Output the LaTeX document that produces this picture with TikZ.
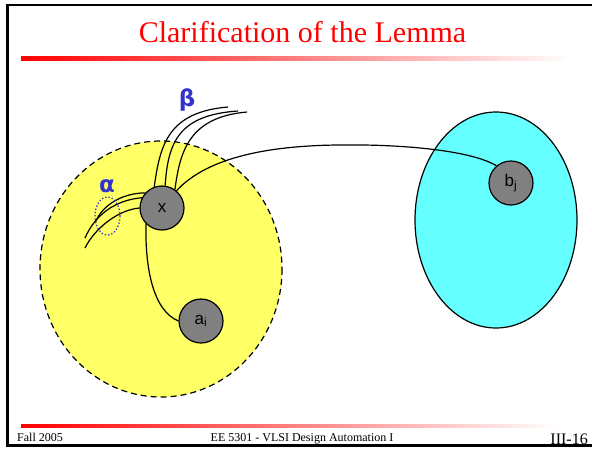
\documentclass[tikz,border=0pt]{standalone}
\usepackage{fontspec}
\setmainfont{Liberation Serif}
\newfontfamily\arialf{Liberation Sans}
\newfontfamily\dvsf{DejaVu Sans}
\definecolor{myyellow}{RGB}{255,255,102}
\definecolor{mycyan}{RGB}{102,255,255}
\definecolor{nodegray}{RGB}{128,128,128}
\definecolor{greek}{RGB}{51,51,204}
\pgfdeclarelayer{bg}
\pgfsetlayers{bg,main}
\begin{document}
\begin{tikzpicture}[x=1pt,y=-1pt,
  vnode/.style={circle, draw=black, line width=1.2pt, fill=nodegray, minimum size=44pt, inner sep=0pt, font=\arialf\fontsize{17}{19}\selectfont},
  wire/.style={line width=1.2pt},
  greeklbl/.style={text=greek, font=\dvsf\bfseries\fontsize{23}{25}\selectfont},
  gradline/.style={left color=red, right color=white, draw=none},
  foot/.style={font=\fontsize{12}{13}\selectfont}
  ]
\useasboundingbox (0,0) rectangle (592,448);
% nodes
\node[vnode] (x) at (162,208) {x};
\node[vnode] (ai) at (201,321) {a\textsubscript{i}};
\node[vnode] (bj) at (511,183) {b\textsubscript{j}};
\begin{pgfonlayer}{bg}
\fill[white] (0,0) rectangle (592,448);
\draw[line width=1.2pt, fill=myyellow, dash pattern=on 6pt off 4pt] (161,269) ellipse [x radius=121, y radius=128];
\draw[line width=1.2pt, fill=mycyan] (496,220) ellipse [x radius=81, y radius=108];
% beta strands
\draw[wire] (x.110) .. controls (160,145) and (168,112) .. (228,107);
\draw[wire] (x.82) .. controls (168,143) and (178,115) .. (238,111);
\draw[wire] (x.55) .. controls (180,150) and (190,117) .. (247,112);
% alpha strands
\draw[wire] (x.138) .. controls (125,193) and (103,203) .. (95,223);
\draw[wire] (x.153) .. controls (115,200) and (95,215) .. (85,238);
\draw[wire] (x.180) .. controls (118,210) and (95,228) .. (85,248);
% connections
\draw[wire] (x.50) .. controls (205,160) and (260,146) .. (337,145) .. controls (400,144) and (470,150) .. (bj.130);
\draw[wire] (x.225) .. controls (145,265) and (152,310) .. (ai.west);
\end{pgfonlayer}
% frame
\draw[line width=2.8pt] (592,5) -- (7.2,5) -- (7.2,445.5) -- (592,445.5);
% title
\node[text=red, font=\fontsize{30}{32}\selectfont, anchor=base] (title) at (302.5,42) {Clarification of the Lemma};
\shade[gradline] (21,56.7) rectangle (572,60);
\draw[greek, line width=1.3pt, dotted] (107.5,216) ellipse [x radius=12.5, y radius=19];
\node[greeklbl] (alpha) at (107,186) {α};
\node[greeklbl] (beta) at (187,100) {β};
% footer
\shade[gradline] (21,424.3) rectangle (560,427.6);
\node[foot, anchor=base west, inner sep=0pt] (fall) at (17,441) {Fall 2005};
\node[foot, anchor=base, inner sep=0pt] (course) at (302,441) {EE 5301 - VLSI Design Automation I};
\node[font=\fontsize{16}{17}\selectfont, anchor=base east, inner sep=0pt] (page) at (588,444.5) {III-16};
\end{tikzpicture}
\end{document}
